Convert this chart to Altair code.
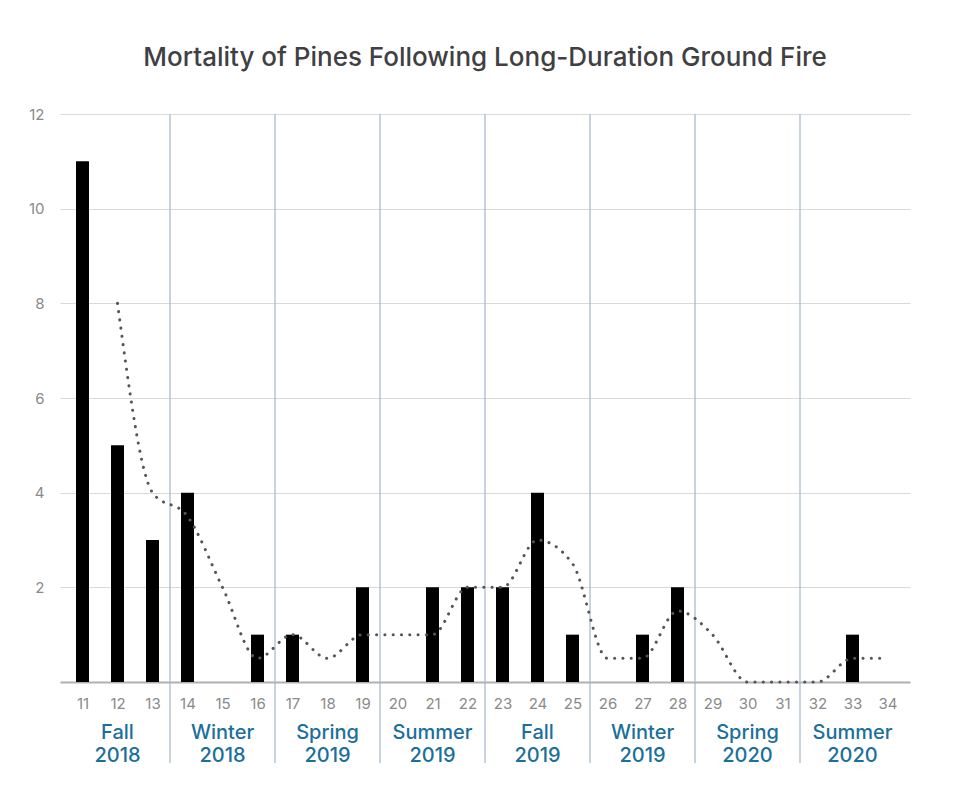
import altair as alt
import pandas as pd

months = list(range(11, 35))
deaths = [11, 5, 3, 4, 0, 1, 1, 0, 2, 0, 2, 2, 2, 4, 1, 0, 1, 2, 0, 0, 0, 0, 1, 0]
avg_months = list(range(12, 35))
moving_avg = [8, 4, 3.5, 2, 0.5, 1, 0.5, 1, 1, 1, 2, 2, 3, 2.5, 0.5, 0.5, 1.5, 1, 0, 0, 0, 0.5, 0.5]
season_breaks = [13.5, 16.5, 19.5, 22.5, 25.5, 28.5, 31.5]
season_centers = [12, 15, 18, 21, 24, 27, 30, 33]
season_labels = ["Fall\n2018", "Winter\n2018", "Spring\n2019", "Summer\n2019",
                 "Fall\n2019", "Winter\n2019", "Spring\n2020", "Summer\n2020"]
y_ticks = [0, 2, 4, 6, 8, 10, 12]

W, H = 850, 568
FONT = "Inter"
TFONT = "Inter"

bars_df = pd.DataFrame({"month": months, "deaths": deaths})
avg_df = pd.DataFrame({"month": avg_months, "avg": moving_avg})
breaks_df = pd.DataFrame({"month": season_breaks})
seasons_df = pd.DataFrame({"month": season_centers, "label": season_labels})

xscale = alt.Scale(domain=[10.5, 34.5], nice=False, zero=False)
yscale = alt.Scale(domain=[0, 12], nice=False)

xaxis = alt.Axis(values=months, format="d", title=None, grid=False, ticks=False,
                 domainColor="#b0b0b0", domainWidth=2, labelPadding=14, labelFlush=False,
                 labelFont=FONT, labelFontSize=15, labelColor="#8a8a8a")
yaxis = alt.Axis(values=y_ticks, title=None, domain=False, ticks=False,
                 gridColor="#d9d9d9", gridWidth=1, labelPadding=16,
                 labelFont=FONT, labelFontSize=15, labelColor="#8a8a8a",
                 labelExpr="datum.value == 0 ? '' : datum.label")

X = alt.X("month:Q", scale=xscale, axis=xaxis)

bars = alt.Chart(bars_df).mark_bar(color="black", size=13).encode(
    x=X,
    y=alt.Y("deaths:Q", scale=yscale, axis=yaxis),
)

rules = alt.Chart(breaks_df).mark_rule(color="#a3b6cc", strokeWidth=1.2).encode(
    x=X,
    y=alt.value(0),
    y2=alt.value(H + 81),
)

line = alt.Chart(avg_df).mark_line(
    color="#555555", strokeWidth=3, strokeDash=[0.1, 8.2], strokeCap="round",
    interpolate="monotone",
).encode(
    x=X,
    y=alt.Y("avg:Q", scale=yscale, axis=yaxis),
)

texts = alt.Chart(seasons_df).mark_text(
    font=TFONT, fontSize=20, fontWeight=500, color="#1b6f9b", lineBreak="\n", lineHeight=23,
    baseline="alphabetic", align="center",
).encode(
    x=X,
    y=alt.value(H + 57),
    text="label:N",
)

chart = alt.layer(bars, rules, line, texts).properties(
    width=W, height=H,
    title=alt.TitleParams(
        "Mortality of Pines Following Long-Duration Ground Fire",
        font=TFONT, fontSize=26, fontWeight=500, color="#404043",
        anchor="middle", offset=36,
    ),
    autosize=alt.AutoSizeParams(type="none"),
    padding={"left": 60, "top": 114, "right": 44, "bottom": 109},
).configure(background="white").configure_view(stroke=None).configure_axis(
    labelFont=FONT, labelFontSize=15, labelColor="#8a8a8a"
)

chart.save("out.html", embed_options={"renderer": "svg", "actions": False})
